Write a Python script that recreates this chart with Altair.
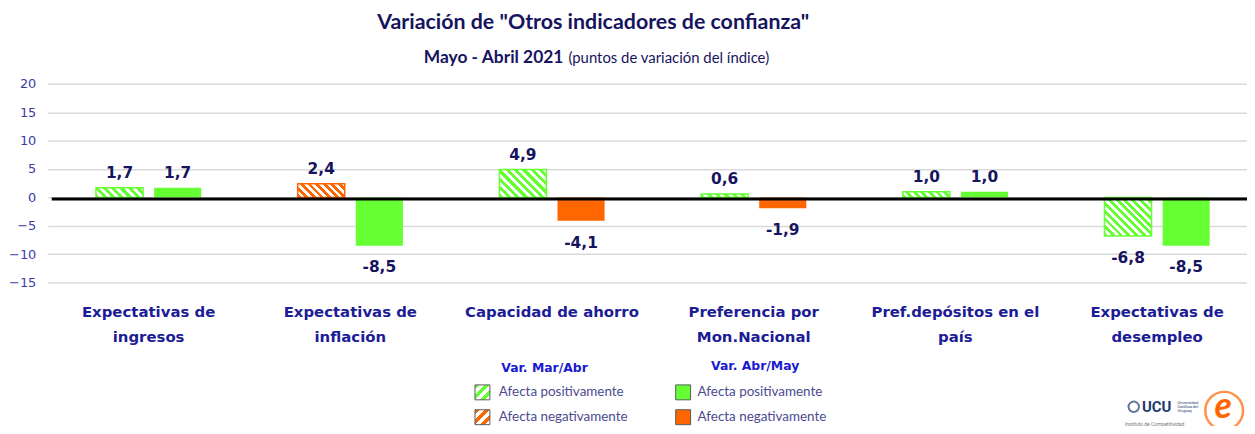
import altair as alt
import pandas as pd

# ---------------- data ----------------
categories = [
    "Expectativas de|ingresos",
    "Expectativas de|inflación",
    "Capacidad de ahorro",
    "Preferencia por|Mon.Nacional",
    "Pref.depósitos en el|país",
    "Expectativas de|desempleo",
]
periods = ["Mar/Abr", "Abr/May"]
mar_abr = [1.7, 2.4, 4.9, 0.6, 1.0, -6.8]
abr_may = [1.7, -8.5, -4.1, -1.9, 1.0, -8.5]
effect_mar_abr = ["pos", "neg", "pos", "pos", "pos", "pos"]
effect_abr_may = ["pos", "pos", "neg", "neg", "pos", "pos"]
y_ticks = [-15, -10, -5, 0, 5, 10, 15, 20]

rows = []
for i, c in enumerate(categories):
    for p, vals, effs in (("Mar/Abr", mar_abr, effect_mar_abr), ("Abr/May", abr_may, effect_abr_may)):
        v = vals[i]
        rows.append({"cat": c, "period": p, "value": v, "effect": effs[i],
                     "label": f"{v:.1f}".replace(".", ",")})
df = pd.DataFrame(rows)

# ---------------- styling / geometry ----------------
GREEN = "#66FF33"
ORANGE = "#FF6600"
NAVY = "#16145E"
CAT_BLUE = "#1C1C96"
AXIS_BLUE = "#3B3BA6"
LEG_HEAD = "#1A1AD0"
LEG_TEXT = "#4B4B8F"
FONT = "DejaVu Sans"
TFONT = "Lato"

PAD_L, PAD_T, PAD_R, PAD_B = 40, 75, 0, 143
PLOT_W, PLOT_H = 1207, 200
X_RANGE = 1218
OX, OY = 8 + PAD_L, 8 + PAD_T
Y_MIN, Y_MAX = -15, 20
PX = PLOT_H / (Y_MAX - Y_MIN)
PI, PO = 0.19, 0.83
STEP = (X_RANGE / len(categories)) / (2 - PI + 2 * PO)
BW = STEP * (1 - PI)


def hatch(w, h, color, period=8.0, frac=0.5, slash=False):
    s = w * w + h * h
    n = max(1, round((w + h) / period))
    if slash:
        x1, y1, x2, y2 = 0, 0, (w + h) * w / s, (w + h) * h / s
    else:
        x1, y1, x2, y2 = 0, 1, (w + h) * w / s, 1 - (w + h) * h / s
    stops = []
    for k in range(n):
        a, b, c = k / n, (k + frac) / n, (k + 1) / n
        stops += [{"offset": a, "color": color}, {"offset": b, "color": color},
                  {"offset": b, "color": "white"}, {"offset": c, "color": "white"}]
    return {"gradient": "linear", "x1": x1, "y1": y1, "x2": x2, "y2": y2, "stops": stops}


x_enc = alt.X("cat:N", sort=categories,
              scale=alt.Scale(domain=categories, range=[0, X_RANGE], paddingInner=0, paddingOuter=0),
              axis=alt.Axis(title=None, labelExpr="split(datum.label, '|')", labelAngle=0,
                            labelFont=FONT, labelFontSize=15, labelFontWeight="bold",
                            labelColor=CAT_BLUE, labelLineHeight=25, labelPadding=22,
                            labelBaseline="top", domain=False, ticks=False, labelLimit=0))
xo_enc = alt.XOffset("period:N", sort=periods,
                     scale=alt.Scale(domain=periods, paddingInner=PI, paddingOuter=PO))
y_scale = alt.Scale(domain=[Y_MIN, Y_MAX], nice=False, zero=False)
y_axis = alt.Axis(values=y_ticks, title=None, domain=False, ticks=False, labelFont=FONT,
                  labelFontSize=13, labelColor=AXIS_BLUE, labelPadding=12,
                  gridColor="#D9D9D9", gridWidth=1.5)
y_enc = alt.Y("value:Q", scale=y_scale, axis=y_axis)

base = alt.Chart(df).encode(x=x_enc, xOffset=xo_enc, y=y_enc)

layers = []
# solid bars (Abr/May)
layers.append(
    base.transform_filter(alt.datum.period == "Abr/May").mark_bar().encode(
        fill=alt.Fill("effect:N", scale=alt.Scale(domain=["pos", "neg"], range=[GREEN, ORANGE]),
                      legend=None))
)
# hatched bars (Mar/Abr), one layer each so every bar gets its own stripe geometry
for i, c in enumerate(categories):
    v = mar_abr[i]
    col = GREEN if effect_mar_abr[i] == "pos" else ORANGE
    grad = hatch(BW, abs(v) * PX, col)
    layers.append(
        base.transform_filter((alt.datum.period == "Mar/Abr") & (alt.datum.cat == c))
        .mark_bar(fill=grad, stroke=col, strokeWidth=1.5)
    )

# zero line
zero_df = pd.DataFrame({"value": [0]})
layers.append(
    alt.Chart(zero_df).mark_rule(color="black", strokeWidth=3, yOffset=1.5).encode(
        y=y_enc, x=alt.value(4), x2=alt.value(PLOT_W))
)

# value labels
layers.append(
    base.transform_filter(alt.datum.value >= 0).mark_text(
        baseline="middle", dy=-15, font=FONT, fontSize=15.5, fontWeight="bold", color=NAVY
    ).encode(text="label:N")
)
layers.append(
    base.transform_filter(alt.datum.value < 0).mark_text(
        baseline="middle", dy=22, font=FONT, fontSize=15.5, fontWeight="bold", color=NAVY
    ).encode(text="label:N")
)

dummy = pd.DataFrame({"d": [0]})


def txt(s, x, y, size, color, weight="normal", align="center", font=TFONT, style="normal"):
    return alt.Chart(dummy).mark_text(
        text=s, fontSize=size, color=color, fontWeight=weight, align=align,
        baseline="middle", font=font, fontStyle=style
    ).encode(x=alt.value(x - OX), y=alt.value(y - OY))


def box(x1, y1, x2, y2, fill, stroke="#5A5A5A"):
    return alt.Chart(dummy).mark_rect(fill=fill, stroke=stroke, strokeWidth=1).encode(
        x=alt.value(x1 - OX), x2=alt.value(x2 - OX), y=alt.value(y1 - OY), y2=alt.value(y2 - OY))


# titles
layers.append(txt('Variación de "Otros indicadores de confianza"', 597, 22, 21.5, NAVY, "bold"))
layers.append(txt("Mayo - Abril 2021", 567, 57, 17.5, NAVY, "bold", align="right"))
layers.append(txt("(puntos de variación del índice)", 572, 57, 15, NAVY, align="left"))

# legend
layers.append(txt("Var. Mar/Abr", 548, 369, 12.5, LEG_HEAD, "bold", font=FONT))
layers.append(txt("Var. Abr/May", 760, 367, 12.5, LEG_HEAD, "bold", font=FONT))
layers.append(box(478, 386, 493, 401, hatch(15, 15, GREEN, period=10, slash=True)))
layers.append(box(478, 411, 493, 426, hatch(15, 15, ORANGE, period=10, slash=True)))
layers.append(box(680, 386, 695, 401, GREEN))
layers.append(box(680, 411, 695, 426, ORANGE))
layers.append(txt("Afecta positivamente", 502, 393, 13.5, LEG_TEXT, align="left"))
layers.append(txt("Afecta negativamente", 502, 418, 13.5, LEG_TEXT, align="left"))
layers.append(txt("Afecta positivamente", 702, 393, 13.5, LEG_TEXT, align="left"))
layers.append(txt("Afecta negativamente", 702, 418, 13.5, LEG_TEXT, align="left"))

# logos (approximation)
layers.append(alt.Chart(dummy).mark_point(shape="circle", filled=False, stroke="#1F3A6E",
                                          strokeWidth=2, size=110).encode(
    x=alt.value(1141 - OX), y=alt.value(408 - OY)))
layers.append(txt("UCU", 1164, 408, 15, "#1F3A6E", "bold", font="Roboto"))
layers.append(txt("Universidad", 1185, 404, 4, "#1F3A6E", align="left", font="Roboto"))
layers.append(txt("Católica del", 1185, 408, 4, "#1F3A6E", align="left", font="Roboto"))
layers.append(txt("Uruguay", 1185, 412, 4, "#1F3A6E", align="left", font="Roboto"))
layers.append(txt("Instituto de Competitividad", 1162, 425, 5, "#777777", font="Roboto"))
layers.append(alt.Chart(dummy).mark_point(shape="circle", filled=False, stroke=ORANGE,
                                          strokeWidth=2.5, size=1444).encode(
    x=alt.value(1232 - OX), y=alt.value(412 - OY)))
layers.append(txt("e", 1231, 408, 36, ORANGE, "bold", style="italic"))

chart = alt.layer(*layers).properties(
    width=PLOT_W, height=PLOT_H,
    autosize=alt.AutoSizeParams(type="none"),
    padding={"left": PAD_L, "top": PAD_T, "right": PAD_R, "bottom": PAD_B},
    background="white",
).configure_view(stroke=None)

chart.save("out.html", embed_options={"renderer": "svg", "actions": False})
